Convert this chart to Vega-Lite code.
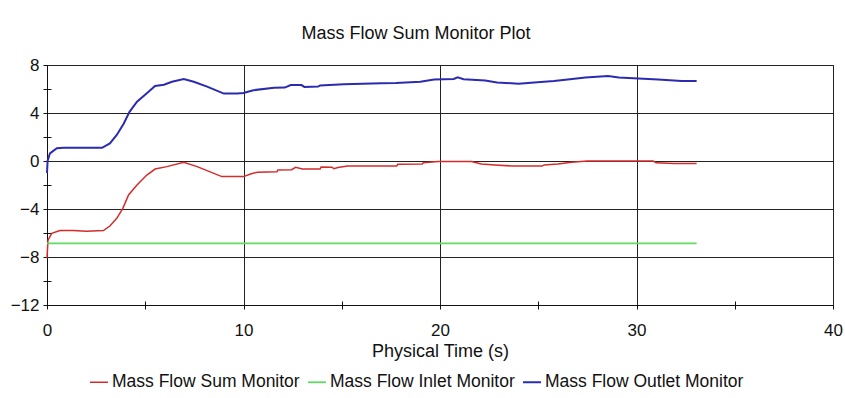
{
  "$schema": "https://vega.github.io/schema/vega-lite/v6.json",
  "width": 786,
  "height": 240,
  "autosize": {"type": "none"},
  "padding": {"left": 47, "top": 65, "right": 12, "bottom": 93},
  "background": "white",
  "config": {
    "font": "Liberation Sans",
    "view": {"stroke": "#222", "strokeWidth": 1},
    "axis": {
      "labelFont": "Liberation Sans",
      "titleFont": "Liberation Sans",
      "labelColor": "#111",
      "titleColor": "#111",
      "domainColor": "#111",
      "tickColor": "#111",
      "gridColor": "#222",
      "gridOpacity": 1,
      "gridWidth": 1,
      "labelFontSize": 17,
      "titleFontSize": 18,
      "titleFontWeight": "normal"
    },
    "legend": {"labelFont": "Liberation Sans", "labelFontSize": 17.5, "labelColor": "#111", "labelLimit": 400}
  },
  "title": {
    "text": "Mass Flow Sum Monitor Plot",
    "fontSize": 18,
    "fontWeight": "normal",
    "color": "#111",
    "font": "Liberation Sans",
    "anchor": "middle",
    "offset": 13,
    "dx": -24
  },
  "data": {
    "values": [
      {"t": 0, "v": -8.1, "series": "Mass Flow Sum Monitor"},
      {"t": 0.05, "v": -6.6, "series": "Mass Flow Sum Monitor"},
      {"t": 0.24, "v": -6.03, "series": "Mass Flow Sum Monitor"},
      {"t": 0.66, "v": -5.8, "series": "Mass Flow Sum Monitor"},
      {"t": 1.34, "v": -5.8, "series": "Mass Flow Sum Monitor"},
      {"t": 2.0, "v": -5.85, "series": "Mass Flow Sum Monitor"},
      {"t": 2.87, "v": -5.8, "series": "Mass Flow Sum Monitor"},
      {"t": 3.2, "v": -5.42, "series": "Mass Flow Sum Monitor"},
      {"t": 3.55, "v": -4.78, "series": "Mass Flow Sum Monitor"},
      {"t": 3.86, "v": -3.95, "series": "Mass Flow Sum Monitor"},
      {"t": 4.15, "v": -2.83, "series": "Mass Flow Sum Monitor"},
      {"t": 4.58, "v": -2.0, "series": "Mass Flow Sum Monitor"},
      {"t": 5.08, "v": -1.17, "series": "Mass Flow Sum Monitor"},
      {"t": 5.5, "v": -0.67, "series": "Mass Flow Sum Monitor"},
      {"t": 6.1, "v": -0.47, "series": "Mass Flow Sum Monitor"},
      {"t": 6.96, "v": -0.1, "series": "Mass Flow Sum Monitor"},
      {"t": 7.64, "v": -0.47, "series": "Mass Flow Sum Monitor"},
      {"t": 8.9, "v": -1.3, "series": "Mass Flow Sum Monitor"},
      {"t": 9.8, "v": -1.3, "series": "Mass Flow Sum Monitor"},
      {"t": 10.0, "v": -1.3, "series": "Mass Flow Sum Monitor"},
      {"t": 10.36, "v": -1.08, "series": "Mass Flow Sum Monitor"},
      {"t": 10.7, "v": -0.94, "series": "Mass Flow Sum Monitor"},
      {"t": 11.7, "v": -0.9, "series": "Mass Flow Sum Monitor"},
      {"t": 11.75, "v": -0.75, "series": "Mass Flow Sum Monitor"},
      {"t": 12.45, "v": -0.72, "series": "Mass Flow Sum Monitor"},
      {"t": 12.65, "v": -0.53, "series": "Mass Flow Sum Monitor"},
      {"t": 13.0, "v": -0.67, "series": "Mass Flow Sum Monitor"},
      {"t": 13.9, "v": -0.67, "series": "Mass Flow Sum Monitor"},
      {"t": 13.95, "v": -0.5, "series": "Mass Flow Sum Monitor"},
      {"t": 14.5, "v": -0.52, "series": "Mass Flow Sum Monitor"},
      {"t": 14.6, "v": -0.64, "series": "Mass Flow Sum Monitor"},
      {"t": 14.8, "v": -0.55, "series": "Mass Flow Sum Monitor"},
      {"t": 15.3, "v": -0.42, "series": "Mass Flow Sum Monitor"},
      {"t": 17.8, "v": -0.42, "series": "Mass Flow Sum Monitor"},
      {"t": 17.85, "v": -0.28, "series": "Mass Flow Sum Monitor"},
      {"t": 19.1, "v": -0.26, "series": "Mass Flow Sum Monitor"},
      {"t": 19.15, "v": -0.14, "series": "Mass Flow Sum Monitor"},
      {"t": 19.9, "v": -0.05, "series": "Mass Flow Sum Monitor"},
      {"t": 21.6, "v": -0.05, "series": "Mass Flow Sum Monitor"},
      {"t": 22.1, "v": -0.25, "series": "Mass Flow Sum Monitor"},
      {"t": 22.8, "v": -0.33, "series": "Mass Flow Sum Monitor"},
      {"t": 23.7, "v": -0.42, "series": "Mass Flow Sum Monitor"},
      {"t": 25.2, "v": -0.42, "series": "Mass Flow Sum Monitor"},
      {"t": 25.3, "v": -0.33, "series": "Mass Flow Sum Monitor"},
      {"t": 26.0, "v": -0.25, "series": "Mass Flow Sum Monitor"},
      {"t": 26.7, "v": -0.1, "series": "Mass Flow Sum Monitor"},
      {"t": 27.5, "v": 0.0, "series": "Mass Flow Sum Monitor"},
      {"t": 30.85, "v": 0.0, "series": "Mass Flow Sum Monitor"},
      {"t": 31.0, "v": -0.15, "series": "Mass Flow Sum Monitor"},
      {"t": 31.9, "v": -0.2, "series": "Mass Flow Sum Monitor"},
      {"t": 33.06, "v": -0.2, "series": "Mass Flow Sum Monitor"},
      {"t": 0, "v": -6.87, "series": "Mass Flow Inlet Monitor"},
      {"t": 10, "v": -6.87, "series": "Mass Flow Inlet Monitor"},
      {"t": 20, "v": -6.87, "series": "Mass Flow Inlet Monitor"},
      {"t": 33.06, "v": -6.87, "series": "Mass Flow Inlet Monitor"},
      {"t": 0, "v": -1.0, "series": "Mass Flow Outlet Monitor"},
      {"t": 0.03, "v": 0, "series": "Mass Flow Outlet Monitor"},
      {"t": 0.15, "v": 0.64, "series": "Mass Flow Outlet Monitor"},
      {"t": 0.5, "v": 1.06, "series": "Mass Flow Outlet Monitor"},
      {"t": 0.85, "v": 1.1, "series": "Mass Flow Outlet Monitor"},
      {"t": 2.8, "v": 1.1, "series": "Mass Flow Outlet Monitor"},
      {"t": 3.2, "v": 1.47, "series": "Mass Flow Outlet Monitor"},
      {"t": 3.55, "v": 2.17, "series": "Mass Flow Outlet Monitor"},
      {"t": 3.9, "v": 3.1, "series": "Mass Flow Outlet Monitor"},
      {"t": 4.2, "v": 4.1, "series": "Mass Flow Outlet Monitor"},
      {"t": 4.58, "v": 4.94, "series": "Mass Flow Outlet Monitor"},
      {"t": 5.08, "v": 5.64, "series": "Mass Flow Outlet Monitor"},
      {"t": 5.5, "v": 6.25, "series": "Mass Flow Outlet Monitor"},
      {"t": 5.95, "v": 6.35, "series": "Mass Flow Outlet Monitor"},
      {"t": 6.36, "v": 6.6, "series": "Mass Flow Outlet Monitor"},
      {"t": 6.96, "v": 6.83, "series": "Mass Flow Outlet Monitor"},
      {"t": 7.47, "v": 6.6, "series": "Mass Flow Outlet Monitor"},
      {"t": 8.15, "v": 6.2, "series": "Mass Flow Outlet Monitor"},
      {"t": 9.0, "v": 5.62, "series": "Mass Flow Outlet Monitor"},
      {"t": 9.68, "v": 5.62, "series": "Mass Flow Outlet Monitor"},
      {"t": 10.0, "v": 5.66, "series": "Mass Flow Outlet Monitor"},
      {"t": 10.5, "v": 5.9, "series": "Mass Flow Outlet Monitor"},
      {"t": 11.55, "v": 6.1, "series": "Mass Flow Outlet Monitor"},
      {"t": 12.1, "v": 6.12, "series": "Mass Flow Outlet Monitor"},
      {"t": 12.4, "v": 6.33, "series": "Mass Flow Outlet Monitor"},
      {"t": 12.95, "v": 6.33, "series": "Mass Flow Outlet Monitor"},
      {"t": 13.1, "v": 6.17, "series": "Mass Flow Outlet Monitor"},
      {"t": 13.8, "v": 6.2, "series": "Mass Flow Outlet Monitor"},
      {"t": 13.9, "v": 6.3, "series": "Mass Flow Outlet Monitor"},
      {"t": 15.1, "v": 6.4, "series": "Mass Flow Outlet Monitor"},
      {"t": 17.0, "v": 6.47, "series": "Mass Flow Outlet Monitor"},
      {"t": 17.76, "v": 6.5, "series": "Mass Flow Outlet Monitor"},
      {"t": 19.0, "v": 6.6, "series": "Mass Flow Outlet Monitor"},
      {"t": 19.7, "v": 6.8, "series": "Mass Flow Outlet Monitor"},
      {"t": 20.7, "v": 6.83, "series": "Mass Flow Outlet Monitor"},
      {"t": 20.9, "v": 6.97, "series": "Mass Flow Outlet Monitor"},
      {"t": 21.2, "v": 6.82, "series": "Mass Flow Outlet Monitor"},
      {"t": 22.3, "v": 6.7, "series": "Mass Flow Outlet Monitor"},
      {"t": 22.9, "v": 6.55, "series": "Mass Flow Outlet Monitor"},
      {"t": 24.0, "v": 6.44, "series": "Mass Flow Outlet Monitor"},
      {"t": 24.8, "v": 6.55, "series": "Mass Flow Outlet Monitor"},
      {"t": 25.8, "v": 6.67, "series": "Mass Flow Outlet Monitor"},
      {"t": 26.5, "v": 6.8, "series": "Mass Flow Outlet Monitor"},
      {"t": 27.4, "v": 6.95, "series": "Mass Flow Outlet Monitor"},
      {"t": 28.55, "v": 7.08, "series": "Mass Flow Outlet Monitor"},
      {"t": 29.1, "v": 6.95, "series": "Mass Flow Outlet Monitor"},
      {"t": 31.1, "v": 6.8, "series": "Mass Flow Outlet Monitor"},
      {"t": 32.3, "v": 6.67, "series": "Mass Flow Outlet Monitor"},
      {"t": 33.06, "v": 6.67, "series": "Mass Flow Outlet Monitor"}
    ]
  },
  "layer": [
    {
      "mark": {"type": "line", "interpolate": "linear"},
      "encoding": {
        "x": {
          "field": "t",
          "type": "quantitative",
          "scale": {"domain": [0, 40], "nice": false, "zero": false},
          "axis": {
            "orient": "bottom",
            "title": "Physical Time (s)",
            "values": [0, 5, 10, 15, 20, 25, 30, 35, 40],
            "labelExpr": "datum.value % 10 === 0 ? datum.label : ''",
            "gridOpacity": {"condition": {"test": "datum.value % 10 !== 0", "value": 0}, "value": 1},
            "tickSize": 4,
            "labelPadding": 13,
            "titlePadding": 4,
            "labelFlush": false,
            "labelOverlap": false
          }
        },
        "y": {
          "field": "v",
          "type": "quantitative",
          "scale": {"domain": [-12, 8], "nice": false, "zero": false},
          "axis": {
            "orient": "left",
            "title": null,
            "values": [-12, -10, -8, -6, -4, -2, 0, 2, 4, 6, 8],
            "labelExpr": "datum.value % 4 === 0 ? datum.label : ''",
            "gridOpacity": {"condition": {"test": "datum.value % 4 !== 0", "value": 0}, "value": 1},
            "tickSize": 4,
            "labelPadding": 4,
            "labelFlush": false,
            "labelOverlap": false
          }
        },
        "color": {
          "field": "series",
          "type": "nominal",
          "sort": ["Mass Flow Sum Monitor", "Mass Flow Inlet Monitor", "Mass Flow Outlet Monitor"],
          "scale": {
            "domain": ["Mass Flow Sum Monitor", "Mass Flow Inlet Monitor", "Mass Flow Outlet Monitor"],
            "range": ["#d42b2b", "#5edc5e", "#2b2bb0"]
          },
          "legend": {
            "title": null,
            "orient": "none",
            "direction": "horizontal",
            "legendX": 42,
            "legendY": 307,
            "symbolType": "stroke",
            "symbolSize": 324,
            "symbolStrokeWidth": 1.5,
            "labelOffset": 3,
            "columnPadding": 4
          }
        },
        "strokeWidth": {
          "field": "series",
          "type": "nominal",
          "scale": {
            "domain": ["Mass Flow Sum Monitor", "Mass Flow Inlet Monitor", "Mass Flow Outlet Monitor"],
            "range": [1.5, 2, 1.5]
          },
          "legend": null
        }
      }
    },
    {
      "mark": {"type": "point", "opacity": 0},
      "encoding": {
        "x": {
          "field": "t",
          "type": "quantitative",
          "axis": {
            "orient": "bottom",
            "title": null,
            "values": [5, 15, 25, 35],
            "labels": false,
            "grid": false,
            "domain": false,
            "tickSize": -4
          }
        },
        "y": {
          "field": "v",
          "type": "quantitative",
          "axis": {
            "orient": "left",
            "title": null,
            "values": [-10, -6, -2, 2, 6],
            "labels": false,
            "grid": false,
            "domain": false,
            "tickSize": -4
          }
        }
      }
    }
  ],
  "resolve": {"axis": {"x": "independent", "y": "independent"}}
}
